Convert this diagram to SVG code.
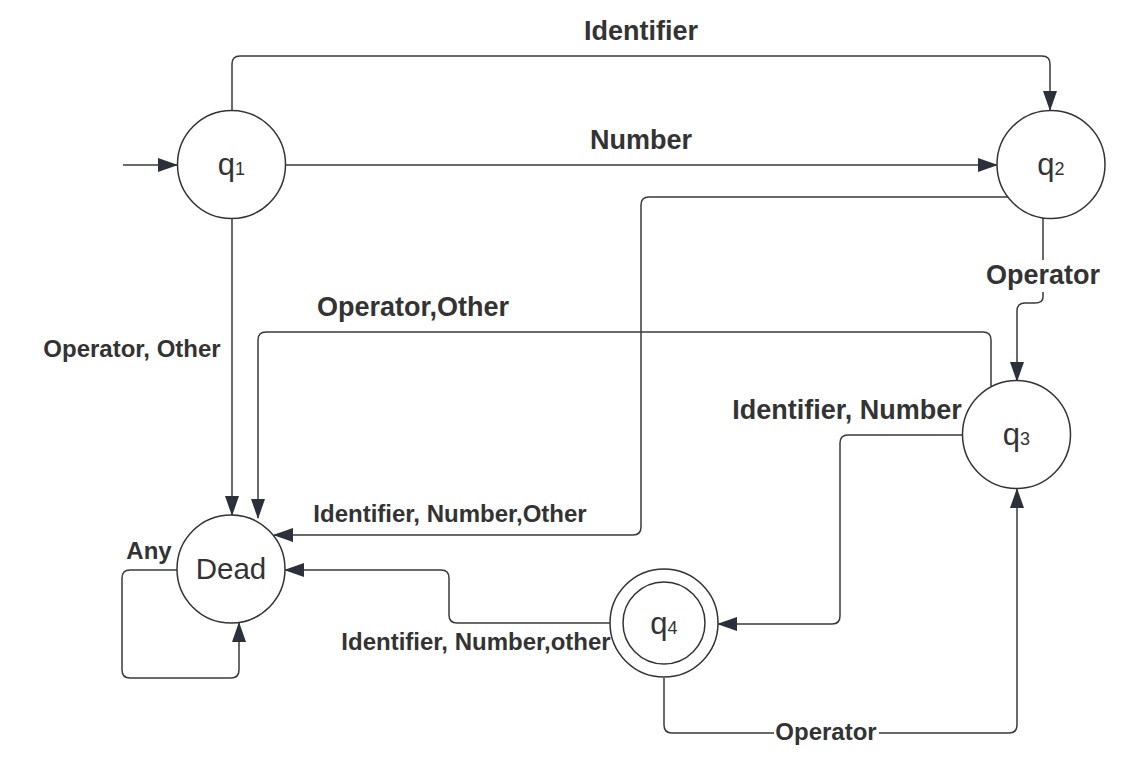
<svg xmlns="http://www.w3.org/2000/svg" width="1142" height="772" viewBox="0 0 1142 772">
<defs>
<marker id="arr" viewBox="0 0 20 14" refX="19" refY="7" markerWidth="20" markerHeight="14" markerUnits="userSpaceOnUse" orient="auto">
<path d="M0,0 L20,7 L0,14 Z" fill="#2b303b"/>
</marker>
</defs>
<style>
.st{fill:#fff;stroke:#333;stroke-width:1.5}
.nl{font-family:"Liberation Sans",Arial,sans-serif;fill:#333;text-anchor:middle}
.c{fill:none;stroke:#3a3a3a;stroke-width:1.5;marker-end:url(#arr)}
.lb{font-family:"Liberation Sans",Arial,sans-serif;font-weight:bold;font-size:24px;fill:#333;text-anchor:middle;dominant-baseline:central}
.lg{font-size:27px}
</style>
<rect width="1142" height="772" fill="#fff"/>
<g id="connectors">
<path class="c" d="M123,165 H177"/>
<path class="c" d="M232,111 V64 Q232,56 240,56 H1042 Q1050,56 1050,64 V110"/>
<path class="c" d="M286,165 H997"/>
<path class="c" d="M232,218 V515"/>
<path class="c" d="M1043,218 V297 Q1043,303 1035,303 H1025 Q1017,303 1017,311 V381"/>
<path class="c" d="M991,386 V340 Q991,332 983,332 H266 Q258,332 258,340 V518"/>
<path class="c" d="M1008,197 H649 Q641,197 641,205 V527 Q641,535 633,535 H274"/>
<path class="c" d="M963,435 H848 Q840,435 840,443 V616 Q840,624 832,624 H718"/>
<path class="c" d="M610,623 H457 Q449,623 449,615 V578 Q449,570 441,570 H285"/>
<path class="c" d="M664,678 V725 Q664,733 672,733 H1009 Q1017,733 1017,725 V489"/>
<path class="c" d="M177,570 H130 Q122,570 122,578 V670 Q122,678 130,678 H231 Q239,678 239,670 V623"/>
</g>
<g id="labels">
<text class="lb lg" x="641" y="31">Identifier</text>
<text class="lb lg" x="641" y="140">Number</text>
<text class="lb" x="132" y="348">Operator, Other</text>
<text class="lb lg" x="413" y="307">Operator,Other</text>
<rect x="984" y="260" width="120" height="32" fill="#fff"/>
<text class="lb lg" x="1043" y="275">Operator</text>
<text class="lb lg" x="847" y="410">Identifier, Number</text>
<text class="lb" x="450" y="513">Identifier, Number,Other</text>
<text class="lb" x="476" y="641">Identifier, Number,other</text>
<text class="lb" x="149" y="550">Any</text>
<rect x="774" y="718" width="105" height="28" fill="#fff"/>
<text class="lb" x="826" y="731">Operator</text>
</g>
<g id="q1"><circle class="st" cx="231.5" cy="164.5" r="54"/><text class="nl" x="231.5" y="175" font-size="31">q<tspan font-size="18">1</tspan></text></g>
<g id="q2"><circle class="st" cx="1051" cy="164.5" r="54"/><text class="nl" x="1051" y="175" font-size="31">q<tspan font-size="18">2</tspan></text></g>
<g id="q3"><circle class="st" cx="1016.5" cy="434.5" r="54"/><text class="nl" x="1016.5" y="445" font-size="31">q<tspan font-size="18">3</tspan></text></g>
<g id="dead"><circle class="st" cx="231" cy="569" r="54"/><text class="nl" x="231" y="579" font-size="29.5">Dead</text></g>
<g id="q4"><circle class="st" cx="664" cy="623" r="54"/><circle class="st" cx="664" cy="623" r="41"/><text class="nl" x="664" y="634" font-size="31">q<tspan font-size="18">4</tspan></text></g>
</svg>
